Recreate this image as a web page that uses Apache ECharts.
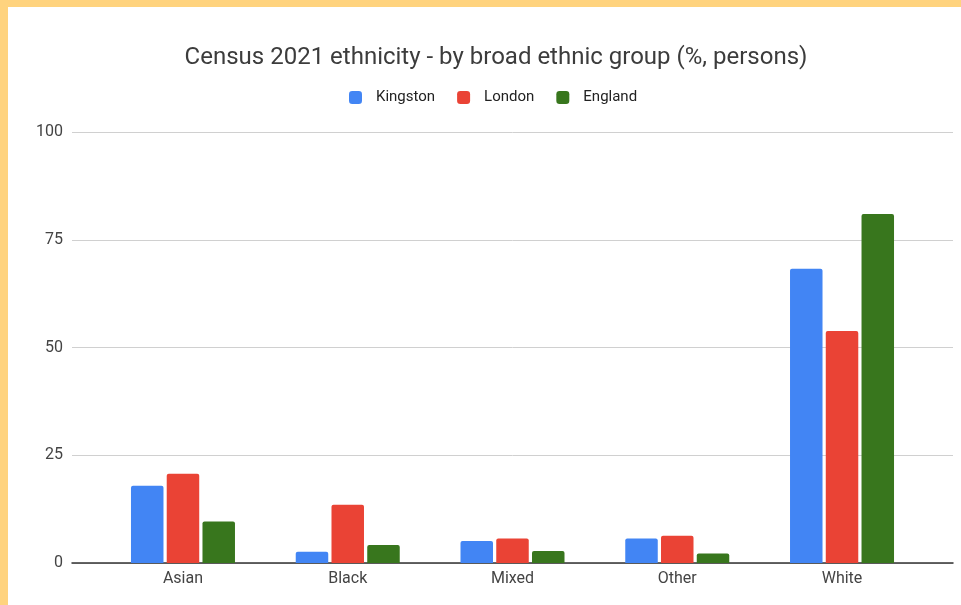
<!DOCTYPE html>
<html>
<head>
<meta charset="utf-8">
<script src="https://cdn.jsdelivr.net/npm/echarts@6/dist/echarts.min.js"></script>
<style>
  html, body { margin: 0; padding: 0; width: 961px; height: 605px; background: #FFD37E; overflow: hidden; }
  #chart { position: absolute; left: 8px; top: 7px; width: 953px; height: 598px; background: #ffffff; }
</style>
</head>
<body>
<div id="chart"></div>
<script>
const categories = ['Asian', 'Black', 'Mixed', 'Other', 'White'];
const kingston = [17.9, 2.6, 5.1, 5.7, 68.3];
const london = [20.7, 13.5, 5.7, 6.3, 53.8];
const england = [9.6, 4.2, 2.8, 2.2, 81.0];
const yTicks = [0, 25, 50, 75, 100];
const titleText = 'Census 2021 ethnicity - by broad ethnic group (%, persons)';

const chart = echarts.init(document.getElementById('chart'), null, { renderer: 'canvas' });
const font = 'Roboto, Arial, sans-serif';
const barStyle = (c) => ({ color: c, borderRadius: [2, 2, 0, 0] });

chart.setOption({
  backgroundColor: '#ffffff',
  animation: false,
  textStyle: { fontFamily: font },
  title: {
    text: titleText,
    left: 483, top: 34, textAlign: 'center',
    textStyle: { fontFamily: font, fontSize: 24, fontWeight: 'normal', color: '#3c3c3c' }
  },
  legend: {
    left: 336, top: 78,
    icon: 'roundRect', itemWidth: 13, itemHeight: 13, itemGap: 22,
    textStyle: { fontFamily: font, fontSize: 15, color: '#222', padding: [0, 0, 0, 9] },
    data: ['Kingston', 'London', 'England']
  },
  grid: [
    { left: 64, right: 8, top: 125, bottom: 42, containLabel: false },
    { left: 92.6, right: 36.6, top: 125, bottom: 42, containLabel: false }
  ],
  xAxis: [
    { gridIndex: 0, type: 'value', min: 0, max: 1, show: true,
      axisLine: { show: true, lineStyle: { color: '#333', width: 1.5 } },
      axisTick: { show: false }, axisLabel: { show: false }, splitLine: { show: false } },
    { gridIndex: 1, type: 'category', data: categories,
      axisLine: { show: false }, axisTick: { show: false },
      axisLabel: { fontFamily: font, fontSize: 16, color: '#444', margin: 8 } }
  ],
  yAxis: [
    { gridIndex: 0, type: 'value', min: yTicks[0], max: yTicks[yTicks.length - 1], interval: 25,
      axisLine: { show: false }, axisTick: { show: false },
      axisLabel: { fontFamily: font, fontSize: 16, color: '#444', margin: 9 },
      splitLine: { show: true, lineStyle: { color: '#d0d0d0', width: 1 } } },
    { gridIndex: 1, type: 'value', min: 0, max: 100, show: false }
  ],
  series: [
    { name: 'Kingston', type: 'bar', xAxisIndex: 1, yAxisIndex: 1, data: kingston,
      barWidth: 32.5, barGap: '10%', itemStyle: barStyle('#4285F4') },
    { name: 'London', type: 'bar', xAxisIndex: 1, yAxisIndex: 1, data: london,
      barWidth: 32.5, barGap: '10%', itemStyle: barStyle('#EA4335') },
    { name: 'England', type: 'bar', xAxisIndex: 1, yAxisIndex: 1, data: england,
      barWidth: 32.5, barGap: '10%', itemStyle: barStyle('#38761D') }
  ]
});
</script>
</body>
</html>
